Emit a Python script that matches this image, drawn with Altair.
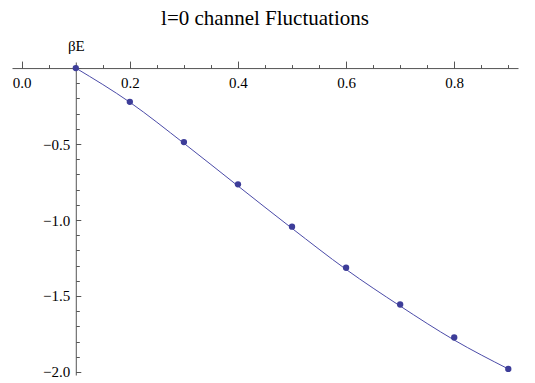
import altair as alt
import pandas as pd

# measured points
x_pts = [0.1, 0.2, 0.3, 0.4, 0.5, 0.6, 0.7, 0.8, 0.9]
y_pts = [0.0, -0.222, -0.487, -0.765, -1.044, -1.314, -1.556, -1.773, -1.980]
# fitted curve
x_fit = [0.1, 0.2, 0.3, 0.4, 0.5, 0.6, 0.7, 0.8, 0.9]
y_fit = [0.0, -0.225, -0.495, -0.776, -1.055, -1.325, -1.566, -1.790, -1.980]

x_major = [0.0, 0.2, 0.4, 0.6, 0.8]
x_minor = [0.0, 0.05, 0.1, 0.15, 0.2, 0.25, 0.3, 0.35, 0.4, 0.45, 0.5, 0.55,
           0.6, 0.65, 0.7, 0.75, 0.8, 0.85, 0.9]
y_major = [0.0, -0.5, -1.0, -1.5, -2.0]
y_minor = [0.0, -0.1, -0.2, -0.3, -0.4, -0.5, -0.6, -0.7, -0.8, -0.9, -1.0,
           -1.1, -1.2, -1.3, -1.4, -1.5, -1.6, -1.7, -1.8, -1.9, -2.0]

pts = pd.DataFrame({"x": x_pts, "y": y_pts})
fit = pd.DataFrame({"x": x_fit, "y": y_fit})

FONT = "Liberation Serif, Times New Roman, Times, serif"
AX = "#555555"
xdom = [-0.018, 0.918]
ydom = [-2.02, 0.04]
W, H = 506, 313
y_axis_offset = -(W - (0.1 - xdom[0]) / (xdom[1] - xdom[0]) * W)
x_axis_offset = -(ydom[1] / (ydom[1] - ydom[0]) * H)

x_scale = alt.Scale(domain=xdom, nice=False, zero=False)
y_scale = alt.Scale(domain=ydom, nice=False, zero=False)

points = alt.Chart(pts).mark_circle(size=40, color="#3d3d99", opacity=1).encode(
    x=alt.X("x:Q", scale=x_scale,
            axis=alt.Axis(orient="top", offset=x_axis_offset, values=x_major,
                          format=".1f", tickSize=7, labelPadding=-14,
                          labelBaseline="top", domainColor=AX, tickColor=AX,
                          grid=False, title=None, labelFont=FONT,
                          labelFontSize=15, labelColor="black",
                          labelFlush=False, labelOverlap=False)),
    y=alt.Y("y:Q", scale=y_scale,
            axis=alt.Axis(orient="right", offset=y_axis_offset, values=y_major,
                          format=".1f", tickSize=5, labelPadding=-11,
                          labelAlign="right", domainColor=AX, tickColor=AX,
                          grid=False, title="βE", titleAngle=0, titleX=0,
                          titleY=-17, titleAlign="center",
                          titleBaseline="middle", titleFont=FONT,
                          titleFontSize=15, titleFontWeight="normal",
                          titleColor="black",
                          labelExpr="datum.value == 0 ? '' : datum.label",
                          labelFont=FONT, labelFontSize=15,
                          labelColor="black", labelFlush=False,
                          labelOverlap=False)),
)

line = alt.Chart(fit).mark_line(color="#4b4ba8", strokeWidth=1,
                                interpolate="monotone").encode(
    x=alt.X("x:Q", scale=x_scale,
            axis=alt.Axis(orient="top", offset=x_axis_offset, values=x_minor,
                          labels=False, domain=False, tickSize=3.5,
                          tickColor=AX, grid=False, title=None)),
    y=alt.Y("y:Q", scale=y_scale,
            axis=alt.Axis(orient="right", offset=y_axis_offset, values=y_minor,
                          labels=False, domain=False, tickSize=3.5,
                          tickColor=AX, grid=False, title=None)),
)

chart = alt.layer(line, points).resolve_axis(
    x="independent", y="independent"
).properties(
    width=W, height=H,
    title=alt.Title("l=0 channel Fluctuations", font=FONT, fontSize=21,
                    fontWeight="normal", color="black", anchor="middle",
                    frame="group", offset=9),
    autosize=alt.AutoSizeParams(type="none"),
    padding={"left": 4, "top": 54, "right": 9, "bottom": 6},
).configure_view(stroke=None)

chart.save("out.html", embed_options={"renderer": "svg", "actions": False})
